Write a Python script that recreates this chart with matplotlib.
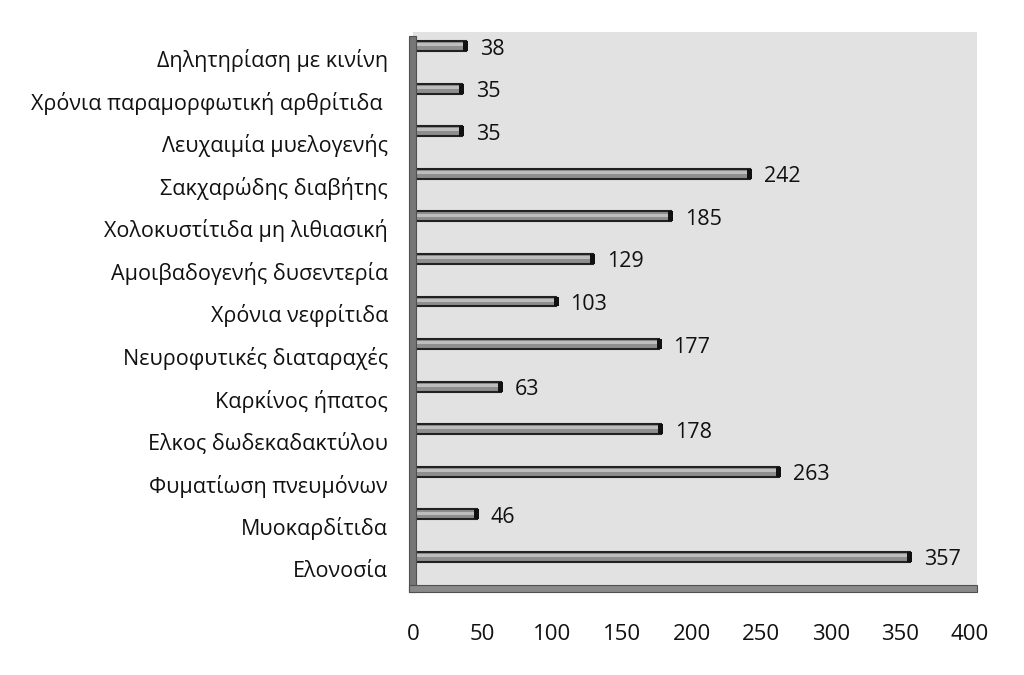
import matplotlib
matplotlib.use("Agg")
import matplotlib.pyplot as plt
from matplotlib.patches import Rectangle
from matplotlib.transforms import ScaledTranslation

plt.rcParams['font.family'] = ['Open Sans', 'DejaVu Sans']

# categories from bottom to top
diseases = [
    "Ελονοσία",
    "Μυοκαρδίτιδα",
    "Φυματίωση πνευμόνων",
    "Ελκος δωδεκαδακτύλου",
    "Καρκίνος ήπατος",
    "Νευροφυτικές διαταραχές",
    "Χρόνια νεφρίτιδα",
    "Αμοιβαδογενής δυσεντερία",
    "Χολοκυστίτιδα μη λιθιασική",
    "Σακχαρώδης διαβήτης",
    "Λευχαιμία μυελογενής",
    "Χρόνια παραμορφωτική αρθρίτιδα ",
    "Δηλητηρίαση με κινίνη",
]
cases = [357, 46, 263, 178, 63, 177, 103, 129, 185, 242, 35, 35, 38]
xticks = [0, 50, 100, 150, 200, 250, 300, 350, 400]

W, H = 1024, 675
fig = plt.figure(figsize=(W / 100, H / 100), dpi=100)
ax = fig.add_axes([413 / W, 1 - 585 / H, (977 - 413) / W, (585 - 32) / H])
ax.set_facecolor('#e2e2e2')

ypos = list(range(len(diseases)))

# body of the thin cylinders
ax.barh(ypos, cases, height=0.23, color='#8e8e8e', edgecolor='#222222',
        linewidth=1.5, zorder=3)
# lighter top highlight
ax.barh([y + 0.03 for y in ypos], cases, height=0.07, color='#bdbdbd',
        linewidth=0, zorder=4)
# dark end caps
ax.barh(ypos, [3.5] * len(cases), left=[c - 2 for c in cases], height=0.23,
        color='#111111', linewidth=0, zorder=5)

down = ScaledTranslation(0, -0.03, fig.dpi_scale_trans)
for y, c in zip(ypos, cases):
    ax.text(c + 10, y, str(c), va='center', ha='left', fontsize=15.5,
            color='#111111', zorder=6, transform=ax.transData + down)

ax.set_xlim(0, 405)
ax.set_ylim(-0.66, 12.33)
ax.set_xticks(xticks)
ax.set_yticks(ypos)
ax.set_yticklabels(diseases)
ax.tick_params(axis='x', length=0, pad=28, labelsize=16, colors='#111111')
ax.tick_params(axis='y', length=0, pad=18, labelsize=15.5, colors='#111111')
for s in ax.spines.values():
    s.set_visible(False)

# category names sit a little lower than the bars (3D perspective)
shift = ScaledTranslation(0, -0.12, fig.dpi_scale_trans)
for lab in ax.get_yticklabels():
    lab.set_transform(lab.get_transform() + shift)

# 3D-like walls: left side wall and floor
fig.patches.append(Rectangle((409 / W, 1 - 592 / H), 7 / W, (592 - 36) / H,
                             transform=fig.transFigure, facecolor='#767676',
                             edgecolor='#505050', linewidth=0.8, zorder=2))
fig.patches.append(Rectangle((409 / W, 1 - 592 / H), (977 - 409) / W, 7 / H,
                             transform=fig.transFigure, facecolor='#8a8a8a',
                             edgecolor='#505050', linewidth=0.8, zorder=2))

fig.savefig('out.png', dpi=100, facecolor='white')
